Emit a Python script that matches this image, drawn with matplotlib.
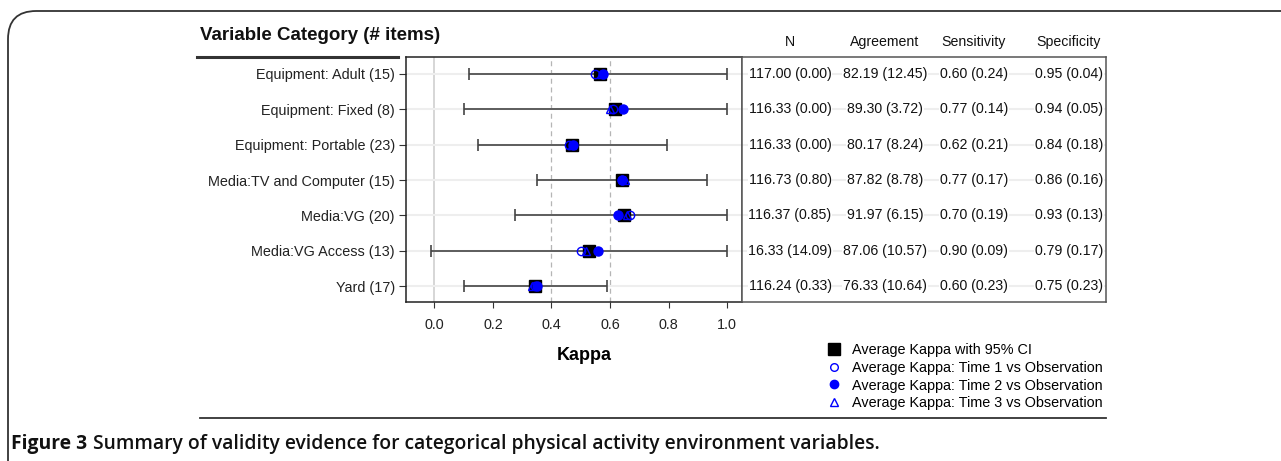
import matplotlib
matplotlib.use("Agg")
import matplotlib.pyplot as plt
from matplotlib.lines import Line2D
from matplotlib.patches import FancyBboxPatch
import numpy as np

plt.rcParams['font.family'] = ['Liberation Sans', 'DejaVu Sans']

# categories (top to bottom)
categories = ["Equipment: Adult (15)", "Equipment: Fixed (8)", "Equipment: Portable (23)",
              "Media:TV and Computer (15)", "Media:VG (20)", "Media:VG Access (13)", "Yard (17)"]

# average kappa with 95% CI
kappa_avg = [0.567, 0.616, 0.471, 0.641, 0.649, 0.527, 0.344]
ci_low = [0.117, 0.100, 0.150, 0.352, 0.276, -0.011, 0.100]
ci_high = [1.000, 1.000, 0.794, 0.933, 1.000, 1.000, 0.589]

# kappa for each time vs observation
kappa_t1 = [0.548, 0.610, 0.460, 0.640, 0.667, 0.502, 0.345]
kappa_t2 = [0.575, 0.645, 0.474, 0.640, 0.626, 0.559, 0.350]
kappa_t3 = [0.570, 0.600, 0.470, 0.650, 0.658, 0.519, 0.334]

# table columns
col_n = ["117.00 (0.00)", "116.33 (0.00)", "116.33 (0.00)", "116.73 (0.80)",
         "116.37 (0.85)", "16.33 (14.09)", "116.24 (0.33)"]
col_agree = ["82.19 (12.45)", "89.30 (3.72)", "80.17 (8.24)", "87.82 (8.78)",
             "91.97 (6.15)", "87.06 (10.57)", "76.33 (10.64)"]
col_sens = ["0.60 (0.24)", "0.77 (0.14)", "0.62 (0.21)", "0.77 (0.17)",
            "0.70 (0.19)", "0.90 (0.09)", "0.60 (0.23)"]
col_spec = ["0.95 (0.04)", "0.94 (0.05)", "0.84 (0.18)", "0.86 (0.16)",
            "0.93 (0.13)", "0.79 (0.17)", "0.75 (0.23)"]
col_headers = ["N", "Agreement", "Sensitivity", "Specificity"]
col_x = [0.132, 0.393, 0.637, 0.898]

W, H = 1281, 461
fig = plt.figure(figsize=(W / 100, H / 100), dpi=100)

# rounded frame around the figure (only top-left corner visible)
frame = FancyBboxPatch((8 / W, -0.2), 1.2, 1.2 - 11 / H,
                       boxstyle="round,pad=0,rounding_size=0.022",
                       transform=fig.transFigure, fill=False, ec="#333333", lw=1.3,
                       mutation_aspect=W / H)
fig.add_artist(frame)

ax = fig.add_axes([406 / W, 1 - 302 / H, 336 / W, 245 / H])
tab = fig.add_axes([742 / W, 1 - 302 / H, 364 / W, 245 / H])

y = np.arange(1, len(categories) + 1)

# reference lines
ax.axvline(0, color="#cfcfcf", lw=1.2, zorder=0)
for v in (0.4, 0.6):
    ax.axvline(v, color="#b5b5b5", lw=0.9, ls=(0, (4, 3)), zorder=0)
for yy in y:
    ax.axhline(yy, color="#eeeeee", lw=1.5, zorder=0)

ax.errorbar(kappa_avg, y, xerr=[np.array(kappa_avg) - np.array(ci_low),
                                np.array(ci_high) - np.array(kappa_avg)],
            fmt="none", ecolor="#444444", elinewidth=1.2, capsize=4, capthick=1.2, zorder=2)
ax.plot(kappa_avg, y, "s", color="black", ms=8.5, zorder=3)
ax.plot(kappa_t1, y, "o", mfc="none", mec="blue", ms=6, mew=1, zorder=4)
ax.plot(kappa_t3, y, "^", mfc="none", mec="blue", ms=6, mew=1, zorder=4)
ax.plot(kappa_t2, y, "o", color="blue", ms=6.5, zorder=5)

ax.set_xlim(-0.097, 1.051)
ax.set_ylim(7.45, 0.52)
ax.set_yticks(y)
ax.set_yticklabels(categories, fontsize=10.4, color="#222222")
ax.set_xticks([0, 0.2, 0.4, 0.6, 0.8, 1.0])
ax.set_xticklabels(["0.0", "0.2", "0.4", "0.6", "0.8", "1.0"], fontsize=10.4, color="#222222")
ax.tick_params(axis="x", length=4.5, pad=7, color="#333333")
ax.tick_params(axis="y", length=5, pad=3, color="#333333")
ax.set_xlabel("Kappa", fontsize=13, fontweight="bold")
ax.xaxis.set_label_coords(0.53, -0.182)
for s in ax.spines.values():
    s.set_color("#222222")
    s.set_linewidth(1.1)
ax.spines["right"].set_color("#555555")

# table panel
tab.set_xlim(0, 1)
tab.set_ylim(7.45, 0.52)
tab.set_xticks([])
tab.set_yticks([])
for yy in y:
    tab.axhline(yy, color="#eeeeee", lw=1.5, zorder=0)
for s in tab.spines.values():
    s.set_color("#555555")
    s.set_linewidth(1.1)
for cx, col in zip(col_x, [col_n, col_agree, col_sens, col_spec]):
    for yy, txt in zip(y, col):
        tab.text(cx, yy, txt, ha="center", va="center", fontsize=10.2, color="#111111",
                 bbox=dict(fc="white", ec="none", pad=0.5))
for cx, h in zip(col_x, col_headers):
    tab.text(cx, 1.062, h, transform=tab.get_xaxis_transform(), ha="center", va="center",
             fontsize=10.2, color="#111111")

# title and rules
fig.text(200 / W, 1 - 35 / H, "Variable Category (# items)", fontsize=13.5, fontweight="bold",
         ha="left", va="center", color="#111111")
fig.add_artist(Line2D([197 / W, 398 / W], [1 - 57 / H] * 2, color="#333333", lw=2.2,
                      transform=fig.transFigure))
fig.add_artist(Line2D([200 / W, 1106 / W], [1 - 418 / H] * 2, color="#333333", lw=1.3,
                      transform=fig.transFigure))

# legend
handles = [
    Line2D([], [], ls="none", marker="s", color="black", ms=8),
    Line2D([], [], ls="none", marker="o", mfc="none", mec="blue", ms=5.5),
    Line2D([], [], ls="none", marker="o", color="blue", ms=6),
    Line2D([], [], ls="none", marker="^", mfc="none", mec="blue", ms=5.5),
]
labels = ["Average Kappa with 95% CI", "Average Kappa: Time 1 vs Observation",
          "Average Kappa: Time 2 vs Observation", "Average Kappa: Time 3 vs Observation"]
fig.legend(handles, labels, loc="upper left", bbox_to_anchor=(827 / W, 1 - 343 / H),
           frameon=False, fontsize=10.4, handlelength=1.0, handletextpad=0.7,
           labelspacing=0.26, borderpad=0, borderaxespad=0)

# caption
cap1 = fig.text(11 / W, 1 - 444 / H, "Figure 3", fontsize=13.9, fontweight="bold",
                family=["Open Sans", "DejaVu Sans"], ha="left", va="center", color="#111111")
ax.annotate("Summary of validity evidence for categorical physical activity environment variables.",
            xy=(1, 0.5), xycoords=cap1, xytext=(4, 0), textcoords="offset points",
            ha="left", va="center", fontsize=13.9, fontweight="semibold",
            family=["Open Sans", "DejaVu Sans"], color="#111111", annotation_clip=False)

fig.savefig("out.png", dpi=100)
